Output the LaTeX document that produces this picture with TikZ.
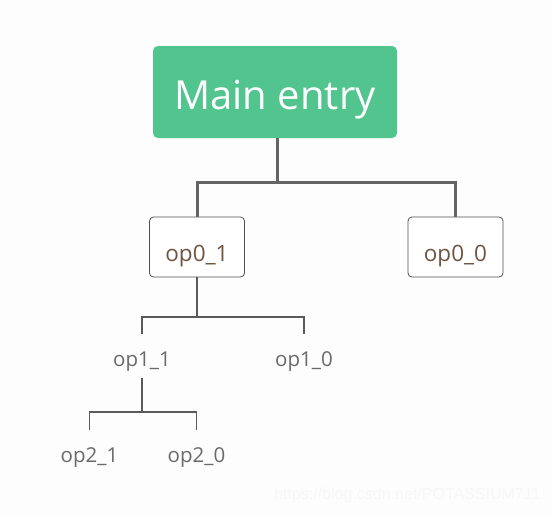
\documentclass[tikz,border=0pt]{standalone}
\usepackage{fontspec}
\setmainfont{Open Sans}
\newfontfamily\wmfont{Liberation Sans}
\definecolor{maingreen}{HTML}{52C48D}
\definecolor{linegray}{HTML}{646464}
\definecolor{boxtext}{HTML}{6E5540}
\definecolor{leaftext}{HTML}{6A6A6A}
\definecolor{bg}{HTML}{FDFDFD}
\begin{document}
\begin{tikzpicture}[x=1pt,y=-1pt,
  mainbox/.style={fill=maingreen,rounded corners=5pt,minimum width=244pt,minimum height=92pt,inner sep=0pt,text=white,font=\fontsize{40}{44}\selectfont,text height=34pt,text depth=0pt},
  opbox/.style={draw=linegray!80!black,line width=0.8pt,fill=white,rounded corners=4pt,minimum width=95pt,minimum height=60pt,inner sep=0pt,text=boxtext,font=\fontsize{22.5}{26}\selectfont,text height=28pt,text depth=0pt},
  leaf/.style={minimum height=44pt,minimum width=10pt,inner sep=0pt,text=leaftext,font=\fontsize{20.5}{24}\selectfont,text height=20pt,text depth=0pt},
  thick conn/.style={draw=linegray,line width=3pt},
  thin conn/.style={draw=linegray!90!black,line width=1.6pt}
]
\fill[bg] (0,0) rectangle (551,514);
\useasboundingbox (0,0) rectangle (551,514);
\node[mainbox] (main) at (275,92) {Main entry};
\node[opbox] (op01) at (197,247) {op0\_1};
\node[opbox] (op00) at (455.5,247) {op0\_0};
\node[leaf] (op11) at (142,356) {op1\_1};
\node[leaf] (op10) at (304,356) {op1\_0};
\node[leaf] (op21) at (89.5,452) {op2\_1};
\node[leaf] (op20) at (196.5,452) {op2\_0};
\node[text=black!3,font=\wmfont\fontsize{16}{18}\selectfont,anchor=east] (wm) at (544,495) {https://blog.csdn.net/POTASSIUM711};
% level 0
\coordinate (j0) at (277,182);
\draw[thick conn] (main.south -| j0) -- (j0);
\draw[thick conn] (op01.north) -- (op01.north |- j0) -- (op00.north |- j0) -- (op00.north);
% level 1
\coordinate (j1) at (197,317);
\draw[thin conn] (op01.south) -- (op01.south |- j1);
\draw[thin conn] (op11.north) -- (op11.north |- j1) -- (op10.north |- j1) -- (op10.north);
% level 2
\coordinate (j2) at (142,412);
\draw[thin conn] (op11.south) -- (op11.south |- j2);
\draw[thin conn] (op21.north) -- (op21.north |- j2) -- (op20.north |- j2) -- (op20.north);
\end{tikzpicture}
\end{document}
